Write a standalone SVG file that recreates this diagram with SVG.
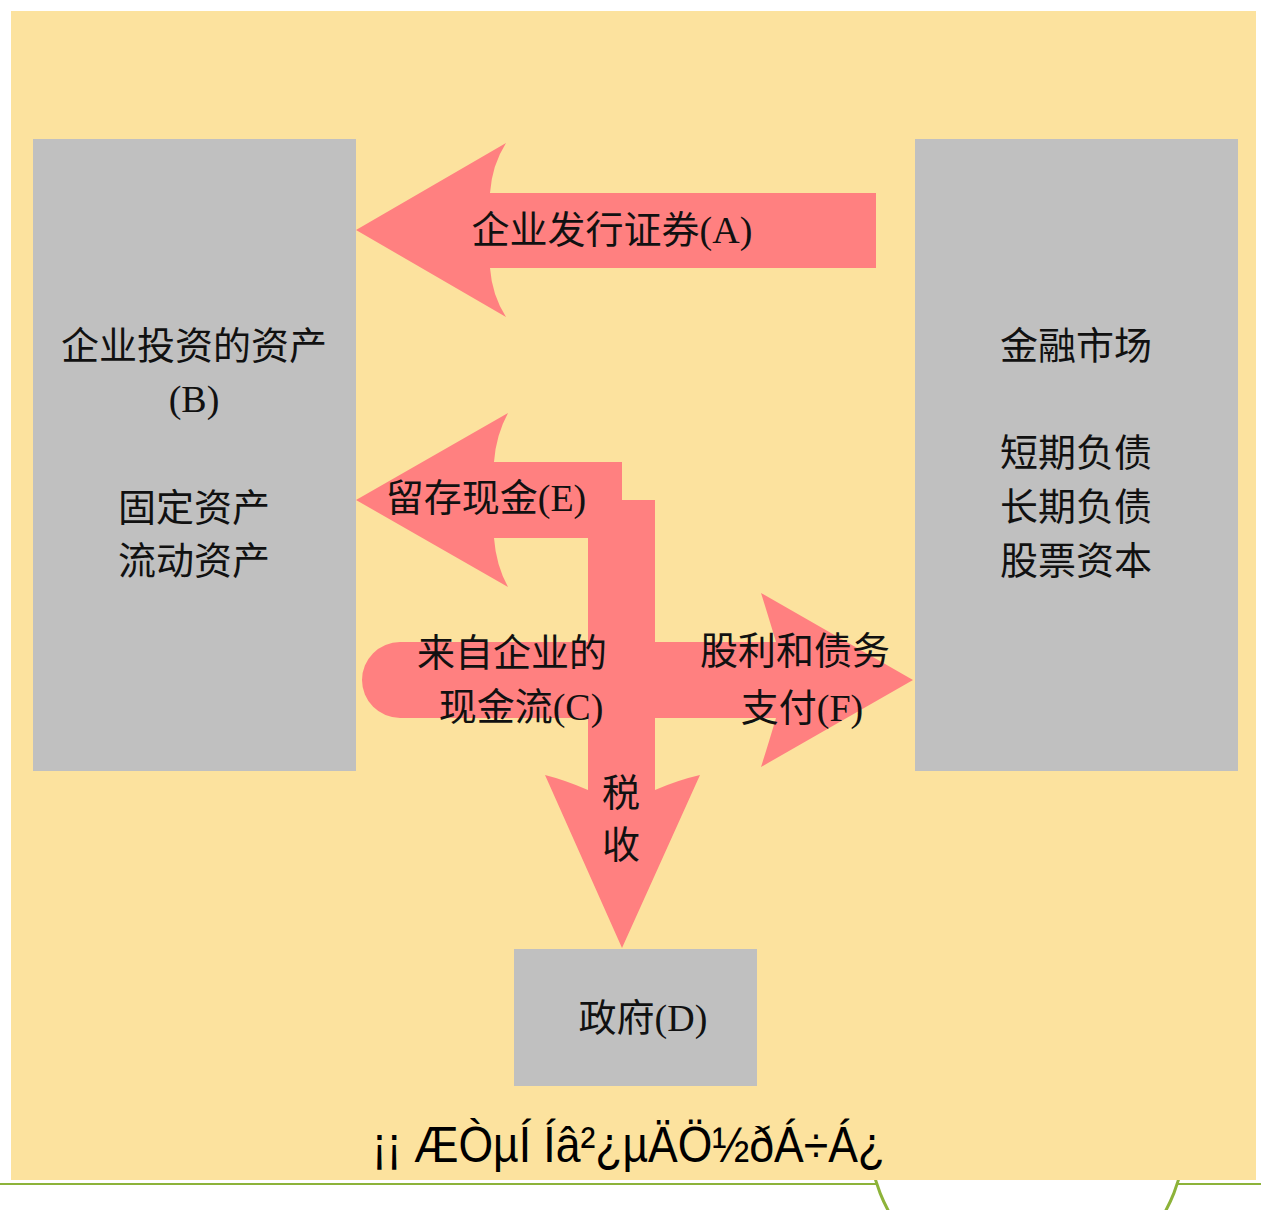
<svg xmlns="http://www.w3.org/2000/svg" width="1261" height="1210" viewBox="0 0 1261 1210">
<style>
.box{fill:#C0C0C0}
.flow{fill:#FF8080}
.t{font-family:"Liberation Serif","Noto Sans CJK SC",serif;font-size:38px;fill:#111;text-anchor:middle}
.g{font-family:"Liberation Sans",Arial,sans-serif;font-size:50px;fill:#000}
</style>
<rect x="0" y="0" width="1261" height="1210" fill="#FFFFFF"/>
<line x1="0" y1="1184" x2="1261" y2="1184" stroke="#8DB33A" stroke-width="2"/>
<circle cx="1027" cy="1135" r="158" fill="#FFFFFF" stroke="#8DB33A" stroke-width="3"/>
<rect x="11" y="11" width="1245" height="1169" fill="#FCE29E"/>

<g id="connectors">
  <path id="arrow-A" class="flow" d="M876,193 L490,193 Q492,165 506,143 L356,230 L506,317 Q492,295 490,268 L876,268 Z"/>
  <path id="arrow-E" class="flow" d="M622,462 L494,462 Q496,435 508,413 L356,500 L508,587 Q496,565 494,538 L622,538 Z"/>
  <rect class="flow" x="588" y="500" width="67" height="292"/>
  <path id="arrow-C-F" class="flow" d="M400,642 L776,642 Q768,615 761,593 L913,680 L761,767 Q768,745 776,718 L400,718 A38,38 0 0 1 400,642 Z"/>
  <path id="arrow-tax" class="flow" d="M588,790 Q565,780 545,775 L622,948 L700,775 Q678,780 655,790 Z"/>
</g>

<g id="node-B">
  <rect class="box" x="33" y="139" width="323" height="632"/>
  <text class="t" x="194" y="359">企业投资的资产</text>
  <text class="t" x="194" y="412">(B)</text>
  <text class="t" x="194" y="521">固定资产</text>
  <text class="t" x="194" y="574">流动资产</text>
</g>
<g id="node-market">
  <rect class="box" x="915" y="139" width="323" height="632"/>
  <text class="t" x="1076" y="359">金融市场</text>
  <text class="t" x="1076" y="466">短期负债</text>
  <text class="t" x="1076" y="520">长期负债</text>
  <text class="t" x="1076" y="574">股票资本</text>
</g>
<g id="node-D">
  <rect class="box" x="514" y="949" width="243" height="137"/>
  <text class="t" x="643" y="1031">政府(D)</text>
</g>

<g id="labels">
  <text class="t" x="612" y="243">企业发行证券(A)</text>
  <text class="t" x="486" y="511">留存现金(E)</text>
  <text class="t" x="512" y="666">来自企业的</text>
  <text class="t" x="521" y="720">现金流(C)</text>
  <text class="t" x="795" y="664">股利和债务</text>
  <text class="t" x="802" y="721">支付(F)</text>
  <text class="t" x="621" y="806">税</text>
  <text class="t" x="621" y="858">收</text>
</g>

<text class="g" x="372" y="1162" textLength="513" lengthAdjust="spacingAndGlyphs">¡¡ ÆÒµÍ Íâ²¿µÄÖ½ðÁ÷Á¿</text>
</svg>
